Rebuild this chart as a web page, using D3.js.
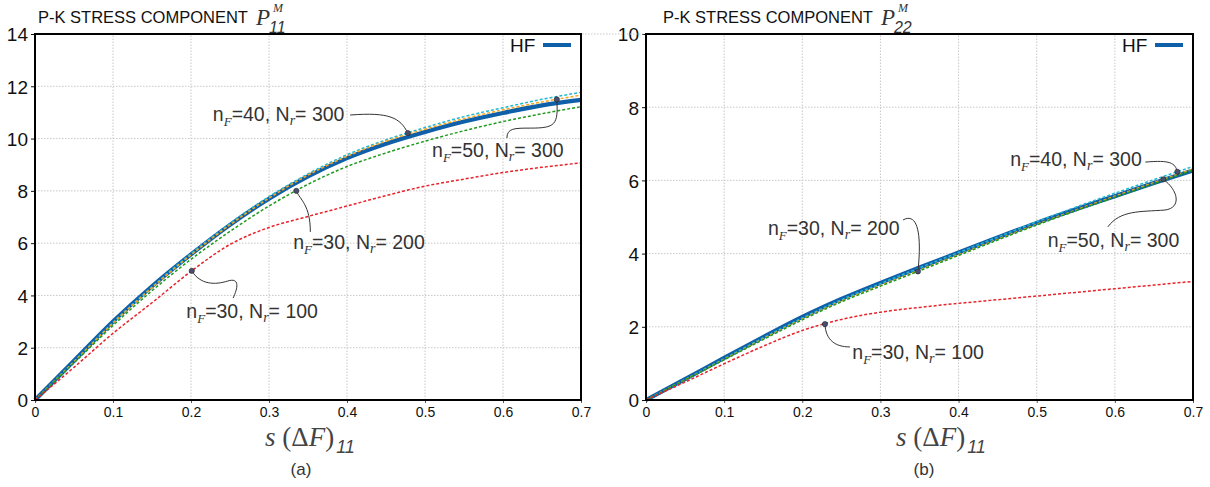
<!DOCTYPE html>
<html><head><meta charset="utf-8">
<script src="https://cdn.jsdelivr.net/npm/d3@7"></script>
<style>body{margin:0;background:#fff}svg{display:block}</style>
</head><body><svg id="c" width="1210" height="487"></svg>
<script>
// ---- data ----
const sVals = [0,0.05,0.1,0.15,0.2,0.25,0.3,0.35,0.4,0.45,0.5,0.55,0.6,0.65,0.7];
const xTicks = [0,0.1,0.2,0.3,0.4,0.5,0.6,0.7];
const xTickLabels = ["0","0.1","0.2","0.3","0.4","0.5","0.6","0.7"];
const yTicksA = [0,2,4,6,8,10,12,14];
const yTicksB = [0,2,4,6,8,10];

// Panel (a): P11
const p11_HF      = [0,1.5,3.0,4.35,5.57,6.7,7.7,8.55,9.25,9.8,10.25,10.65,10.98,11.27,11.48];
const p11_n40N300 = [0,1.48,2.97,4.33,5.6,6.76,7.78,8.65,9.38,9.95,10.42,10.84,11.18,11.5,11.77];
const p11_n50N300 = [0,1.46,2.94,4.3,5.55,6.7,7.72,8.6,9.32,9.9,10.36,10.76,11.1,11.4,11.66];
const p11_n30N200 = [0,1.42,2.85,4.18,5.38,6.45,7.42,8.25,8.93,9.45,9.9,10.3,10.65,10.95,11.22];
const p11_n30N100 = [0,1.25,2.55,3.72,4.92,5.95,6.6,7.02,7.42,7.82,8.18,8.45,8.7,8.9,9.07];

// Panel (b): P22
const p22_HF      = [0,0.57,1.15,1.72,2.27,2.76,3.2,3.62,4.03,4.44,4.84,5.21,5.57,5.93,6.27];
const p22_n40N300 = [0,0.56,1.13,1.7,2.24,2.74,3.18,3.61,4.03,4.45,4.87,5.27,5.65,6.02,6.38];
const p22_n50N300 = [0,0.55,1.11,1.67,2.21,2.7,3.13,3.55,3.97,4.39,4.8,5.19,5.57,5.94,6.31];
const p22_n30N200 = [0,0.55,1.1,1.65,2.19,2.68,3.11,3.53,3.95,4.37,4.78,5.17,5.54,5.91,6.28];
const p22_n30N100 = [0,0.49,0.99,1.47,1.9,2.2,2.4,2.53,2.64,2.74,2.84,2.94,3.04,3.14,3.24];

// annotations (data units): label anchor, leader control points ending at the dot on a series
const annA = [
  {nF:"40", Nr:"300", key:"n40", s:0.478, lx:0.228, ly:10.67, lead:[[0.404,10.90],[0.455,11.02],[0.468,10.79]]},
  {nF:"50", Nr:"300", key:"n50", s:0.669, lx:0.509, ly:9.30, lead:[[0.605,10.02],[0.605,10.40],[0.615,10.40],[0.635,10.40],[0.667,10.40],[0.671,10.52]]},
  {nF:"30", Nr:"200", key:"n200", s:0.335, lx:0.331, ly:5.78, lead:[[0.353,6.43],[0.353,7.46],[0.340,7.65]]},
  {nF:"30", Nr:"100", key:"n100", s:0.201, lx:0.194, ly:3.14, lead:[[0.254,3.90],[0.260,4.28],[0.263,4.70],[0.247,4.55],[0.231,4.40],[0.212,4.40]]}
];
const annB = [
  {nF:"40", Nr:"300", key:"n40", s:0.68, lx:0.466, ly:6.39, lead:[[0.639,6.50],[0.671,6.56],[0.677,6.48]]},
  {nF:"50", Nr:"300", key:"n50", s:0.662, lx:0.514, ly:4.18, lead:[[0.591,4.73],[0.607,5.19],[0.632,5.14],[0.664,5.19],[0.686,5.25],[0.681,5.74]]},
  {nF:"30", Nr:"200", key:"n200", s:0.348, lx:0.156, ly:4.51, lead:[[0.329,4.92],[0.348,5.14],[0.353,4.51]]},
  {nF:"30", Nr:"100", key:"n100", s:0.229, lx:0.264, ly:1.12, lead:[[0.261,1.45],[0.242,1.45],[0.230,1.64]]}
];

const colors = {HF:"#0f60a8", n40:"#22b8d2", n50:"#f7a41d", n200:"#1f9a1f", n100:"#e8232b"};
const SANS = "Liberation Sans, Arial, sans-serif";
const SERIF = "Liberation Serif, serif";

const svg = d3.select("#c");

function panel(cfg){
  const x = d3.scaleLinear().domain([0,0.7]).range([cfg.x0, cfg.x1]);
  const y = d3.scaleLinear().domain([0,cfg.ymax]).range([400,34]);
  const g = svg.append("g");

  // grid
  g.selectAll(".gx").data(xTicks.slice(1,-1)).join("line")
    .attr("x1",d=>x(d)).attr("x2",d=>x(d)).attr("y1",y(0)).attr("y2",y(cfg.ymax))
    .attr("stroke","#c8c8c8").attr("stroke-dasharray","1.5,1.5").attr("stroke-width",1);
  g.selectAll(".gy").data(cfg.yt.slice(1)).join("line")
    .attr("x1",x(0)).attr("x2",x(0.7)).attr("y1",d=>y(d)).attr("y2",d=>y(d))
    .attr("stroke","#c8c8c8").attr("stroke-dasharray","1.5,1.5").attr("stroke-width",1);

  // legend background
  g.append("rect").attr("x",cfg.x1-42).attr("y",36).attr("width",40).attr("height",50).attr("fill","#fff");

  // axes
  const ax = d3.axisBottom(x).tickValues(xTicks).tickFormat((d,i)=>xTickLabels[i]).tickSize(3).tickPadding(4);
  const gx = g.append("g").attr("transform",`translate(0,${y(0)})`).call(ax);
  gx.select(".domain").remove();
  gx.selectAll("text").attr("font-family",SANS).attr("font-size",14).attr("fill","#111");
  gx.selectAll("line").attr("stroke","#555");
  const ay = d3.axisLeft(y).tickValues(cfg.yt).tickSize(4).tickPadding(3);
  const gy = g.append("g").attr("transform",`translate(${x(0)},0)`).call(ay);
  gy.select(".domain").remove();
  gy.selectAll("text").attr("font-family",SANS).attr("font-size",19).attr("fill","#111").attr("dy","0.36em");
  gy.selectAll("line").attr("stroke","#111");

  // curves
  const line = d3.line().x((d,i)=>x(sVals[i])).y(d=>y(d)).curve(d3.curveMonotoneX);
  g.append("path").attr("d",line(cfg.series.HF)).attr("fill","none")
    .attr("stroke",colors.HF).attr("stroke-width",4.2);
  ["n40","n50","n200","n100"].forEach(k=>{
    g.append("path").attr("d",line(cfg.series[k])).attr("fill","none")
      .attr("stroke",colors[k]).attr("stroke-width",1.5).attr("stroke-dasharray","3,2");
  });

  // frame
  g.append("rect").attr("x",x(0)).attr("y",y(cfg.ymax)).attr("width",x(0.7)-x(0)).attr("height",y(0)-y(cfg.ymax))
    .attr("fill","none").attr("stroke","#000").attr("stroke-width",2);

  // legend
  g.append("text").attr("x",cfg.x1-71).attr("y",52).text("HF")
    .attr("font-family",SANS).attr("font-size",19).attr("fill","#111");
  g.append("line").attr("x1",cfg.x1-38).attr("x2",cfg.x1-10).attr("y1",45).attr("y2",45)
    .attr("stroke",colors.HF).attr("stroke-width",4);

  // annotations
  cfg.ann.forEach(a=>{
    const arr = cfg.series[a.key];
    const yv = d3.scaleLinear().domain(sVals).range(arr)(a.s);
    const pts = a.lead.map(p=>[x(p[0]),y(p[1])]).concat([[x(a.s),y(yv)]]);
    let d = `M${pts[0][0]},${pts[0][1]}`;
    for(let i=1;i+2<pts.length;i+=3){
      d += `C${pts[i][0]},${pts[i][1]} ${pts[i+1][0]},${pts[i+1][1]} ${pts[i+2][0]},${pts[i+2][1]}`;
    }
    g.append("path").attr("d",d).attr("fill","none").attr("stroke","#333").attr("stroke-width",1);
    g.append("circle").attr("cx",x(a.s)).attr("cy",y(yv)).attr("r",2.6).attr("fill","#4a4f70").attr("stroke","#222").attr("stroke-width",0.6);
    const t = g.append("text").attr("x",x(a.lx)).attr("y",y(a.ly))
      .attr("font-family",SANS).attr("font-size",19.5).attr("fill","#333");
    t.append("tspan").text("n");
    t.append("tspan").text("F").attr("font-family",SERIF).attr("font-style","italic").attr("font-size",13).attr("dy",5);
    t.append("tspan").text(`=${a.nF}, N`).attr("dy",-5);
    t.append("tspan").text("r").attr("font-family",SERIF).attr("font-style","italic").attr("font-size",14).attr("dy",4);
    t.append("tspan").text(`= ${a.Nr}`).attr("dy",-4);
  });

  // title
  const tt = g.append("text").attr("x",cfg.titleX).attr("y",23).attr("fill","#111")
    .attr("font-family",SANS).attr("font-size",16.5).text("P-K STRESS COMPONENT");
  const tw = tt.node().getComputedTextLength();
  const px = cfg.titleX + tw + 8;
  g.append("text").attr("x",px).attr("y",25).text("P").attr("font-family",SERIF).attr("font-style","italic").attr("font-size",23).attr("fill","#333");
  g.append("text").attr("x",px+17).attr("y",12).text("M").attr("font-family",SERIF).attr("font-style","italic").attr("font-size",12).attr("fill","#333");
  g.append("text").attr("x",px+13).attr("y",33).text(cfg.sub).attr("font-family",SANS).attr("font-style","italic").attr("font-size",16).attr("fill","#333");

  // x label
  const xl = g.append("text").attr("x",cfg.xlabX).attr("y",446).attr("fill","#444")
    .attr("font-family",SERIF).attr("font-size",27);
  xl.append("tspan").text("s").attr("font-style","italic");
  xl.append("tspan").text(" (Δ");
  xl.append("tspan").text("F").attr("font-style","italic");
  xl.append("tspan").text(")");
  xl.append("tspan").text("11").attr("dx",2).attr("font-family",SANS).attr("font-style","italic").attr("font-size",18).attr("dy",7);
  g.append("text").attr("x",cfg.capX).attr("y",475).attr("text-anchor","middle").text(cfg.cap)
    .attr("font-family",SANS).attr("font-size",17).attr("fill","#333");
}

panel({x0:35,x1:581,ymax:14,yt:yTicksA,ann:annA,titleX:38,sub:"11",xlabX:265,capX:301,cap:"(a)",
  series:{HF:p11_HF,n40:p11_n40N300,n50:p11_n50N300,n200:p11_n30N200,n100:p11_n30N100}});
panel({x0:646,x1:1193,ymax:10,yt:yTicksB,ann:annB,titleX:663,sub:"22",xlabX:896,capX:924,cap:"(b)",
  series:{HF:p22_HF,n40:p22_n40N300,n50:p22_n50N300,n200:p22_n30N200,n100:p22_n30N100}});

// dotted top grid link between panels
svg.append("line").attr("x1",582).attr("x2",645).attr("y1",34).attr("y2",34)
  .attr("stroke","#c8c8c8").attr("stroke-dasharray","1.5,1.5");
</script>
</body></html>
